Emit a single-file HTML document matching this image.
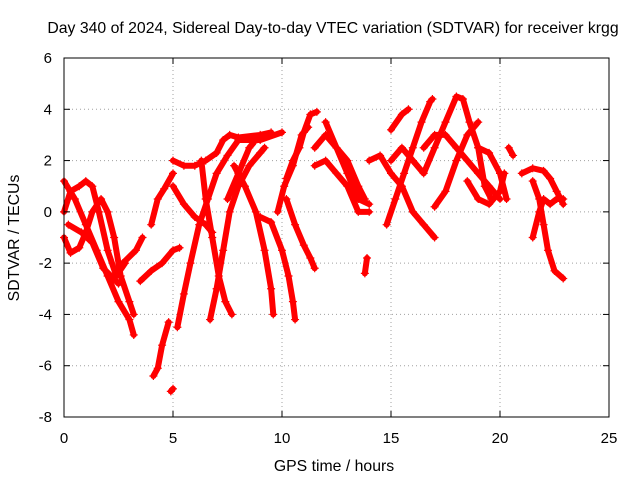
<!DOCTYPE html>
<html><head><meta charset="utf-8"><style>
body{margin:0;background:#fff;}
svg{display:block;font-family:"Liberation Sans",sans-serif;}
</style></head><body>
<svg id="c" width="640" height="480">
<rect width="640" height="480" fill="#fff"/>
<text x="333" y="33" font-size="15.8" text-anchor="middle">Day 340 of 2024, Sidereal Day-to-day VTEC variation (SDTVAR) for receiver krgg</text>
<text x="334" y="471" font-size="15.8" text-anchor="middle">GPS time / hours</text>
<text transform="translate(19,238) rotate(-90)" font-size="15.8" text-anchor="middle">SDTVAR / TECUs</text>
<g id="grid"></g><g id="marks"></g>
<rect x="64" y="58" width="545" height="359" fill="none" stroke="#000"/>
<g id="ticks"></g>
</svg>
<script>
const xTicks=[0,5,10,15,20,25];
const yTicks=[-8,-6,-4,-2,0,2,4,6];
// tracks of [hour, SDTVAR] pairs
const tracks=[
[[0,1.2],[0.5,0.5],[1,-0.5],[1.5,-1.5],[2,-2.5],[2.5,-3.5],[3,-4.2],[3.2,-4.8]],
[[0,-1],[0.3,-1.6],[0.7,-1.4],[1,-0.8],[1.3,0],[1.7,0.5],[2,0],[2.3,-1],[2.6,-2.5],[3,-3.5],[3.2,-4]],
[[0,0],[0.3,0.8],[0.7,1],[1,1.2],[1.3,1],[1.6,0],[2,-1.5],[2.4,-2.5],[2.8,-2]],
[[0.2,-0.5],[0.8,-0.8],[1.3,-1.2],[1.8,-2.2],[2.5,-2.8]],
[[2.7,-2],[3.3,-1.5],[3.6,-1]],
[[3.5,-2.7],[4,-2.3],[4.5,-2],[5,-1.5],[5.3,-1.4]],
[[4.1,-6.4],[4.3,-6.1],[4.5,-5.2],[4.8,-4.3]],
[[4.9,-7],[5.0,-6.9]],
[[4,-0.5],[4.3,0.5],[4.6,0.9],[5,1.5]],
[[5.2,-4.5],[5.5,-3.2],[5.8,-2],[6.2,-0.5],[6.6,0.5],[7,1.5],[7.5,2.2],[8,2.8],[9,2.8],[10,3.1]],
[[5,2],[5.5,1.8],[6,1.8],[6.5,2],[7,2.3],[7.3,2.8],[7.6,3],[8,2.9],[9,3.0],[9.5,3.1]],
[[5,1],[5.5,0.3],[6,-0.2],[6.5,-0.5],[6.8,-0.8]],
[[6.3,2],[6.5,0.5],[6.8,-1],[7.1,-2.5],[7.4,-3.5],[7.7,-4]],
[[6.7,-4.2],[7,-3],[7.3,-1.5],[7.6,0],[8,1],[8.5,1.8],[9,2.3],[9.2,2.5]],
[[7.5,0.5],[8,1.5],[8.5,2.5],[8.7,2.7]],
[[7.8,1.8],[8.3,1],[8.8,0],[9.2,-1.5],[9.5,-3],[9.6,-4]],
[[9,-0.2],[9.5,-0.4],[10,-1.5],[10.3,-2.5],[10.5,-3.5],[10.6,-4.2]],
[[10.2,0.5],[10.6,-0.5],[11,-1.3],[11.3,-1.8],[11.5,-2.2]],
[[10.2,1.3],[10.5,2],[10.8,2.5],[11,3.1],[11.3,3.8],[11.6,3.9]],
[[9.8,0],[10.1,1],[10.5,1.8],[10.9,3],[11.2,3.3]],
[[11.5,2.5],[12,3],[12.5,2.5],[13,2],[13.5,1],[13.8,0.5]],
[[12,3.5],[12.5,2.5],[13,1.5],[13.5,0.5],[14,0.3]],
[[13.9,-1.8],[13.8,-2.4]],
[[11.5,1.8],[12,2],[12.5,1.5],[13,1],[13.5,0],[14,0]],
[[14,2],[14.5,2.2],[15,1.5],[15.5,1],[16,0],[16.5,-0.5],[17,-1]],
[[14.8,-0.5],[15.2,0.5],[15.6,1.5],[16,2.5],[16.4,3.5],[16.8,4.3],[16.9,4.4]],
[[15,3.2],[15.5,3.8],[15.8,4]],
[[15,2],[15.5,2.5],[16,2],[16.5,1.5],[17,2.5],[17.5,3.5],[18,4.5],[18.3,4.4],[18.6,3.5],[19,2.5],[19.3,1],[19.6,0.5]],
[[16.5,2.5],[17,3],[17.5,3],[18,2.5],[18.5,2],[19,1.5],[19.5,1],[20,0.5]],
[[17,0.2],[17.5,0.8],[18,2],[18.5,3],[19,3.5]],
[[18.5,1.2],[19,0.5],[19.5,0.3],[20,0.8],[20.2,1.5]],
[[19,2.5],[19.5,2.3],[20,1.5],[20.3,0.5]],
[[20.4,2.5],[20.6,2.2]],
[[21,1.5],[21.5,1.7],[22,1.6],[22.3,1.3],[22.6,0.8],[22.9,0.3]],
[[21.5,-1],[21.8,0],[22,0.5],[22.3,0.3],[22.6,0.5],[22.9,0.5]],
[[21.5,1.2],[21.8,0.5],[22,-0.5],[22.2,-1.5],[22.5,-2.3],[22.9,-2.6]]
];
const NS='http://www.w3.org/2000/svg';
const X0=64,X1=609,Y0=417,Y1=58;
const sx=v=>X0+(v-0)/(25-0)*(X1-X0);
const sy=v=>Y0-(v-(-8))/(6-(-8))*(Y0-Y1);
const grid=document.getElementById('grid'),ticks=document.getElementById('ticks'),marks=document.getElementById('marks');
function mk(tag,attrs,parent){const e=document.createElementNS(NS,tag);for(const k in attrs)e.setAttribute(k,attrs[k]);parent.appendChild(e);return e;}
xTicks.forEach(t=>{const x=sx(t);
 if(t>0&&t<25){const g=mk('line',{x1:x,x2:x,y1:Y1,y2:Y0,stroke:'#a0a0a0','stroke-dasharray':'1,3'},grid);}
 const l=mk('line',{x1:x,x2:x,y1:Y0,y2:Y0-6,stroke:'#000'},ticks);
 const l2=mk('line',{x1:x,x2:x,y1:Y1,y2:Y1+6,stroke:'#000'},ticks);
 const tx=mk('text',{x:x,y:443,'font-size':15,'text-anchor':'middle'},ticks);tx.textContent=t;});
yTicks.forEach(t=>{const y=sy(t);
 if(t>-8&&t<6){const g=mk('line',{x1:X0,x2:X1,y1:y,y2:y,stroke:'#a0a0a0','stroke-dasharray':'1,3'},grid);}
 const l=mk('line',{x1:X0,x2:X0+6,y1:y,y2:y,stroke:'#000'},ticks);
 const l2=mk('line',{x1:X1,x2:X1-6,y1:y,y2:y,stroke:'#000'},ticks);
 const tx=mk('text',{x:52,y:y+5,'font-size':15,'text-anchor':'end'},ticks);tx.textContent=t;});
tracks.forEach(tr=>{
 const pl=mk('polyline',{points:tr.map(p=>sx(p[0])+','+sy(p[1])).join(' '),fill:'none',stroke:'#f00','stroke-width':6,'stroke-linejoin':'round','stroke-linecap':'round'},marks);
 
 
 tr.forEach(p=>{const x=sx(p[0]),y=sy(p[1]);
  const m=mk('path',{d:`M${x-4},${y}H${x+4}M${x},${y-4}V${y+4}`,stroke:'#f00','stroke-width':1.2},marks);
  
  });
});
</script>
</body></html>
